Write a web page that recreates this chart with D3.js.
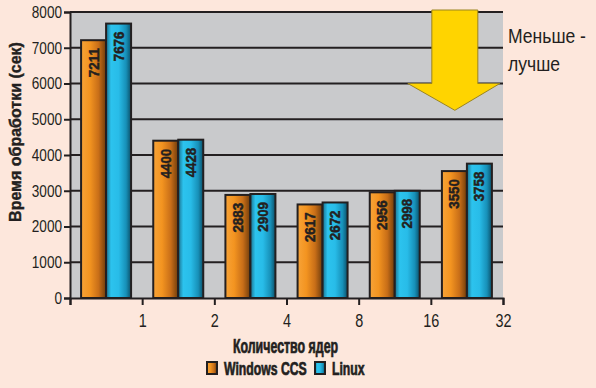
<!DOCTYPE html>
<html>
<head>
<meta charset="utf-8">
<script src="https://cdn.jsdelivr.net/npm/d3@7.9.0/dist/d3.min.js"></script>
<style>
  html, body { margin: 0; padding: 0; background: #fde7dc; }
  svg { display: block; font-family: "Liberation Sans", Arial, sans-serif; }
</style>
</head>
<body>
<svg id="chart" width="596" height="388"></svg>
<script>
// данные
const cores = ["1", "2", "4", "8", "16", "32"];
const windowsCCS = [7211, 4400, 2883, 2617, 2956, 3550];
const linux = [7676, 4428, 2909, 2672, 2998, 3758];
const seriesNames = ["Windows CCS", "Linux"];
const yTicks = [0, 1000, 2000, 3000, 4000, 5000, 6000, 7000, 8000];

const svg = d3.select("#chart");
const margin = { left: 70, right: 93, top: 12, bottom: 90 };
const W = 596, H = 388;
const innerW = W - margin.left - margin.right;
const innerH = H - margin.top - margin.bottom;
const ink = "#231f20";

const x0 = d3.scaleBand().domain(cores).range([0, innerW]).padding(0);
const x1 = d3.scaleBand().domain(seriesNames).range([0, 50]);
const xEdge = d3.scaleLinear().domain([0, cores.length]).range([0, innerW]);
const y = d3.scaleLinear().domain([0, 8000]).range([innerH, 0]);

// узкий шрифт: сжимаем текст по горизонтали
function narrow(sel, k) {
  sel.each(function () {
    const t = d3.select(this);
    const tx = +t.attr("x") || 0, ty = +t.attr("y") || 0;
    t.attr("x", 0).attr("y", 0)
      .attr("transform", `translate(${tx},${ty}) scale(${k},1)`);
  });
}

// градиенты
const defs = svg.append("defs");
const gOr = defs.append("linearGradient").attr("id", "gOrange");
[["0%", "#f7a338"], ["35%", "#f39420"], ["70%", "#c86e18"], ["100%", "#6e3c0c"]]
  .forEach(([o, c]) => gOr.append("stop").attr("offset", o).attr("stop-color", c));
const gBl = defs.append("linearGradient").attr("id", "gBlue");
[["0%", "#1b6f8c"], ["20%", "#2cc3ee"], ["50%", "#28bce8"], ["80%", "#1790b8"], ["100%", "#0b4f68"]]
  .forEach(([o, c]) => gBl.append("stop").attr("offset", o).attr("stop-color", c));
const fills = { "Windows CCS": "url(#gOrange)", "Linux": "url(#gBlue)" };

const g = svg.append("g").attr("transform", `translate(${margin.left},${margin.top})`);

// фон области графика
g.append("rect")
  .attr("width", innerW).attr("height", innerH)
  .attr("fill", "#c9cacc");

// сетка
g.append("g").selectAll("line")
  .data(yTicks.filter(d => d > 0))
  .join("line")
  .attr("x1", 0).attr("x2", innerW)
  .attr("y1", d => y(d)).attr("y2", d => y(d))
  .attr("stroke", ink).attr("stroke-width", 2);

// ось Y
const yAxis = g.append("g")
  .call(d3.axisLeft(y).tickValues(yTicks).tickFormat(d3.format("d")).tickSize(6).tickPadding(2));
yAxis.select(".domain").attr("stroke", ink).attr("stroke-width", 2);
yAxis.selectAll(".tick line").attr("stroke", ink).attr("stroke-width", 2);
yAxis.selectAll(".tick text").attr("font-size", 17).attr("fill", ink)
  .attr("font-family", "Liberation Sans, Arial, sans-serif").call(narrow, 0.8);

// столбцы
const rows = cores.map((c, i) => ({ core: c, values: [windowsCCS[i], linux[i]] }));
const groups = g.selectAll(".grp")
  .data(rows)
  .join("g")
  .attr("class", "grp")
  .attr("transform", d => `translate(${x0(d.core) + (x0.bandwidth() - 50) / 2},0)`);

const bars = groups.selectAll("g.bar")
  .data(d => d.values.map((v, k) => ({ name: seriesNames[k], value: v })))
  .join("g").attr("class", "bar");

bars.append("rect")
  .attr("x", d => x1(d.name))
  .attr("y", d => y(d.value))
  .attr("width", x1.bandwidth())
  .attr("height", d => innerH - y(d.value))
  .attr("fill", d => fills[d.name])
  .attr("stroke", ink).attr("stroke-width", 2);

bars.append("text")
  .attr("transform", d => `translate(${x1(d.name) + x1.bandwidth() / 2 + 5},${y(d.value) + 8}) rotate(-90) scale(0.92,1)`)
  .attr("text-anchor", "end")
  .attr("font-size", 14.5).attr("font-weight", "bold")
  .attr("fill", ink).attr("stroke", ink).attr("stroke-width", 0.5)
  .text(d => d.value);

// ось X
const xAxis = g.append("g")
  .attr("transform", `translate(0,${innerH})`)
  .call(d3.axisBottom(xEdge).tickValues(d3.range(cores.length + 1))
    .tickFormat(i => i ? cores[i - 1] : "").tickSize(7).tickPadding(9));
xAxis.select(".domain").attr("stroke", ink).attr("stroke-width", 2);
xAxis.selectAll(".tick line").attr("stroke", ink).attr("stroke-width", 2);
xAxis.selectAll(".tick text").attr("font-size", 19).attr("fill", ink)
  .attr("font-family", "Liberation Sans, Arial, sans-serif").call(narrow, 0.76);

// подписи осей
svg.append("text")
  .attr("transform", `translate(20.5,132) rotate(-90)`)
  .attr("text-anchor", "middle")
  .attr("font-size", 16).attr("font-weight", "bold")
  .attr("fill", ink).attr("stroke", ink).attr("stroke-width", 0.4)
  .text("Время обработки (сек)");

svg.append("text")
  .attr("x", margin.left + innerW / 2 - 1).attr("y", 353)
  .attr("text-anchor", "middle")
  .attr("font-size", 20).attr("font-weight", "bold")
  .attr("fill", ink).attr("stroke", ink).attr("stroke-width", 0.7)
  .text("Количество ядер")
  .call(narrow, 0.62);

// легенда
const legendX = [207, 315];
const lg = svg.append("g").selectAll("g")
  .data(seriesNames)
  .join("g")
  .attr("transform", (d, i) => `translate(${legendX[i]},362)`);
lg.append("rect")
  .attr("width", 10).attr("height", 12)
  .attr("fill", d => fills[d])
  .attr("stroke", ink).attr("stroke-width", 2);
lg.append("text")
  .attr("x", 17).attr("y", 12.8)
  .attr("font-size", 18).attr("font-weight", "bold")
  .attr("fill", ink).attr("stroke", ink).attr("stroke-width", 0.7)
  .text(d => d)
  .call(narrow, 0.68);

// стрелка "меньше - лучше"
const ax = margin.left + xEdge(5) + 24;
const arrow = [
  [ax - 23, y(8000) - 2], [ax + 23, y(8000) - 2], [ax + 23, y(6000)],
  [ax + 45, y(6000)], [ax, y(5250)], [ax - 47, y(6000)], [ax - 23, y(6000)]
];
svg.append("path")
  .attr("d", d3.line()(arrow.map(([px, py]) => [px, py + margin.top])) + "Z")
  .attr("fill", "#ffd400")
  .attr("stroke", "#9a8420").attr("stroke-width", 1);

svg.selectAll("text.note")
  .data(["Меньше -", "лучше"])
  .join("text")
  .attr("class", "note")
  .attr("x", 508).attr("y", (d, i) => 43 + i * 28)
  .attr("font-size", 19.5).attr("fill", ink)
  .text(d => d)
  .call(narrow, 0.9);
</script>
</body>
</html>
